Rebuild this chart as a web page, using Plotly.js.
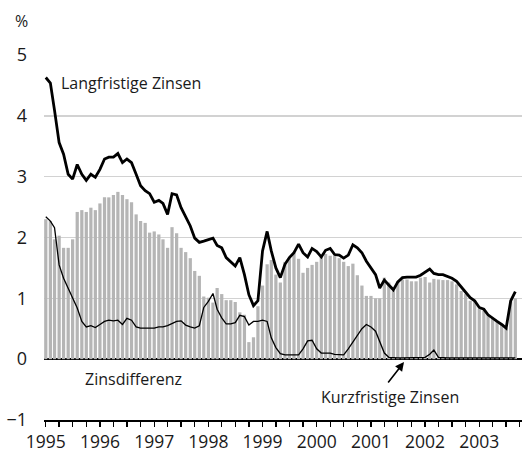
<!DOCTYPE html>
<html>
<head>
<meta charset="utf-8">
<script src="https://cdn.plot.ly/plotly-3.0.1.min.js"></script>
<style>
html,body{margin:0;padding:0;background:#fff;}
#chart{width:522px;height:452px;}
</style>
</head>
<body>
<div id="chart"></div>
<script>
// Monthly data, January 1995 – September 2003
var startYear = 1995;
var nMonths = 105;

var langfristig = [
  4.63, 4.54, 4.09, 3.56, 3.37, 3.04, 2.96, 3.20, 3.04, 2.94, 3.04, 2.99,
  3.12, 3.29, 3.32, 3.32, 3.38, 3.23, 3.29, 3.23, 3.04, 2.85, 2.77, 2.72,
  2.58, 2.61, 2.56, 2.38, 2.72, 2.70, 2.49, 2.33, 2.19, 1.99, 1.92, 1.94,
  1.96, 1.99, 1.87, 1.83, 1.67, 1.59, 1.53, 1.67, 1.39, 1.06, 0.88, 0.96,
  1.78, 2.10, 1.78, 1.50, 1.34, 1.56, 1.67, 1.75, 1.89, 1.75, 1.68, 1.82,
  1.77, 1.68, 1.79, 1.82, 1.72, 1.71, 1.66, 1.71, 1.88, 1.83, 1.75, 1.61,
  1.50, 1.39, 1.17, 1.30, 1.22, 1.14, 1.27, 1.34, 1.35, 1.35, 1.35, 1.38,
  1.43, 1.48, 1.41, 1.39, 1.39, 1.36, 1.33, 1.28, 1.18, 1.10, 1.01, 0.96,
  0.85, 0.82, 0.73, 0.67, 0.62, 0.57, 0.51, 0.96, 1.11
];

var kurzfristig = [
  2.34, 2.27, 2.16, 1.55, 1.33, 1.17, 1.00, 0.84, 0.62, 0.53, 0.55, 0.52,
  0.57, 0.62, 0.64, 0.63, 0.64, 0.57, 0.67, 0.64, 0.53, 0.51, 0.51, 0.51,
  0.51, 0.53, 0.53, 0.55, 0.59, 0.62, 0.63, 0.56, 0.53, 0.51, 0.55, 0.85,
  0.95, 1.08, 0.82, 0.68, 0.58, 0.58, 0.60, 0.72, 0.70, 0.56, 0.62, 0.62,
  0.64, 0.62, 0.35, 0.19, 0.09, 0.07, 0.07, 0.07, 0.07, 0.17, 0.30, 0.31,
  0.17, 0.10, 0.10, 0.10, 0.08, 0.07, 0.07, 0.17, 0.28, 0.38, 0.50, 0.57,
  0.53, 0.46, 0.29, 0.10, 0.03, 0.02, 0.02, 0.02, 0.02, 0.02, 0.02, 0.02,
  0.03, 0.08, 0.15, 0.03, 0.02, 0.02, 0.02, 0.02, 0.02, 0.02, 0.02, 0.02,
  0.02, 0.02, 0.02, 0.02, 0.02, 0.02, 0.02, 0.02, 0.02
];

var zinsdifferenz = [
  2.30, 2.27, 1.97, 2.03, 1.83, 1.83, 1.97, 2.42, 2.45, 2.42, 2.49, 2.45,
  2.56, 2.66, 2.66, 2.70, 2.75, 2.70, 2.63, 2.58, 2.38, 2.27, 2.24, 2.08,
  2.10, 2.05, 1.97, 1.83, 2.17, 2.07, 1.83, 1.76, 1.66, 1.45, 1.37, 1.03,
  1.01, 0.93, 1.17, 1.07, 0.97, 0.97, 0.94, 0.77, 0.73, 0.28, 0.36, 0.87,
  1.21, 1.56, 1.63, 1.39, 1.26, 1.60, 1.66, 1.75, 1.65, 1.42, 1.50, 1.55,
  1.60, 1.68, 1.73, 1.70, 1.70, 1.66, 1.60, 1.53, 1.57, 1.38, 1.21, 1.04,
  1.04, 1.00, 1.00, 1.34, 1.26, 1.12, 1.28, 1.31, 1.31, 1.28, 1.28, 1.34,
  1.35, 1.26, 1.32, 1.31, 1.30, 1.30, 1.28, 1.23, 1.12, 1.07, 0.96, 0.95,
  0.83, 0.80, 0.73, 0.67, 0.62, 0.58, 0.51, 0.95, 1.00
];

var yTicks = [-1, 0, 1, 2, 3, 4, 5];

var labelLang = 'Langfristige Zinsen';
var labelKurz = 'Kurzfristige Zinsen';
var labelDiff = 'Zinsdifferenz';
var labelUnit = '%';

var months = [];
for (var i = 0; i < nMonths; i++) {
  var y = startYear + Math.floor(i / 12);
  var m = (i % 12) + 1;
  months.push(y + '-' + (m < 10 ? '0' + m : m) + '-01');
}

var FONT = 'Open Sans, Noto Sans, sans-serif';
var TXT = '#1a1a1a';

var traces = [
  {
    type: 'bar', x: months, y: zinsdifferenz, name: labelDiff,
    marker: {color: '#b5b5b5', line: {width: 0}},
    hoverinfo: 'x+y'
  },
  {
    type: 'scatter', mode: 'lines', x: months, y: kurzfristig, name: labelKurz,
    line: {color: '#000', width: 1.3}
  },
  {
    type: 'scatter', mode: 'lines', x: months, y: langfristig, name: labelLang,
    line: {color: '#000', width: 2.8}
  }
];

var L = 44, R = 0, T = 54.5, B = 32;
var W = 522, H = 452;
function px(xp) { return (xp - L) / (W - L - R); }
function py(yp) { return (H - B - yp) / (H - T - B); }

var layout = {
  width: W, height: H,
  margin: {l: L, r: R, t: T, b: B, pad: 0},
  paper_bgcolor: '#fff', plot_bgcolor: '#fff',
  showlegend: false,
  bargap: 0.22,
  font: {family: FONT, size: 16, color: TXT},
  xaxis: {
    type: 'date',
    range: ['1994-12-20', '2003-10-16'],
    showgrid: false, zeroline: false,
    showline: true, linecolor: '#000', linewidth: 1.5,
    ticks: 'outside', ticklen: 5, tickwidth: 1.3, tickcolor: '#000',
    dtick: 'M12', tick0: '1995-01-01', tickformat: '%Y',
    minor: {dtick: 'M3', ticks: 'outside', ticklen: 5, tickwidth: 1.3, tickcolor: '#000', showgrid: false},
    ticklabelstandoff: 0,
    tickfont: {family: FONT, size: 17.5, color: TXT},
    fixedrange: true
  },
  yaxis: {
    range: [-1, 5],
    tickvals: yTicks,
    ticktext: yTicks.map(function (v) { return v < 0 ? '\u2212' + Math.abs(v) : String(v); }),
    showgrid: true, gridcolor: '#d2d2d2', gridwidth: 1.5,
    zeroline: true, zerolinecolor: '#000', zerolinewidth: 1.5,
    showline: false, ticks: '',
    ticklabelstandoff: 16,
    tickfont: {family: FONT, size: 18, color: TXT},
    fixedrange: true
  },
  annotations: [
    {text: labelUnit, xref: 'paper', yref: 'paper', x: px(21), y: py(20), showarrow: false,
     xanchor: 'center', yanchor: 'middle', font: {family: FONT, size: 16, color: TXT}},
    {text: labelLang, xref: 'paper', yref: 'paper', x: px(59), y: py(83), showarrow: false,
     xanchor: 'left', yanchor: 'middle', font: {family: FONT, size: 16, color: TXT}},
    {text: labelDiff, xref: 'paper', yref: 'paper', x: px(83), y: py(379), showarrow: false,
     xanchor: 'left', yanchor: 'middle', font: {family: FONT, size: 16, color: TXT}},
    {text: labelKurz, xref: 'paper', yref: 'paper', x: px(319), y: py(397), showarrow: false,
     xanchor: 'left', yanchor: 'middle', font: {family: FONT, size: 16, color: TXT}},
    {text: '', xref: 'paper', yref: 'paper', x: px(404), y: py(362), showarrow: true,
     ax: -17, ay: 22, arrowhead: 2, arrowsize: 1.1, arrowwidth: 1.6, arrowcolor: '#000'}
  ]
};

Plotly.newPlot('chart', traces, layout, {displayModeBar: false, staticPlot: true});
</script>
</body>
</html>
